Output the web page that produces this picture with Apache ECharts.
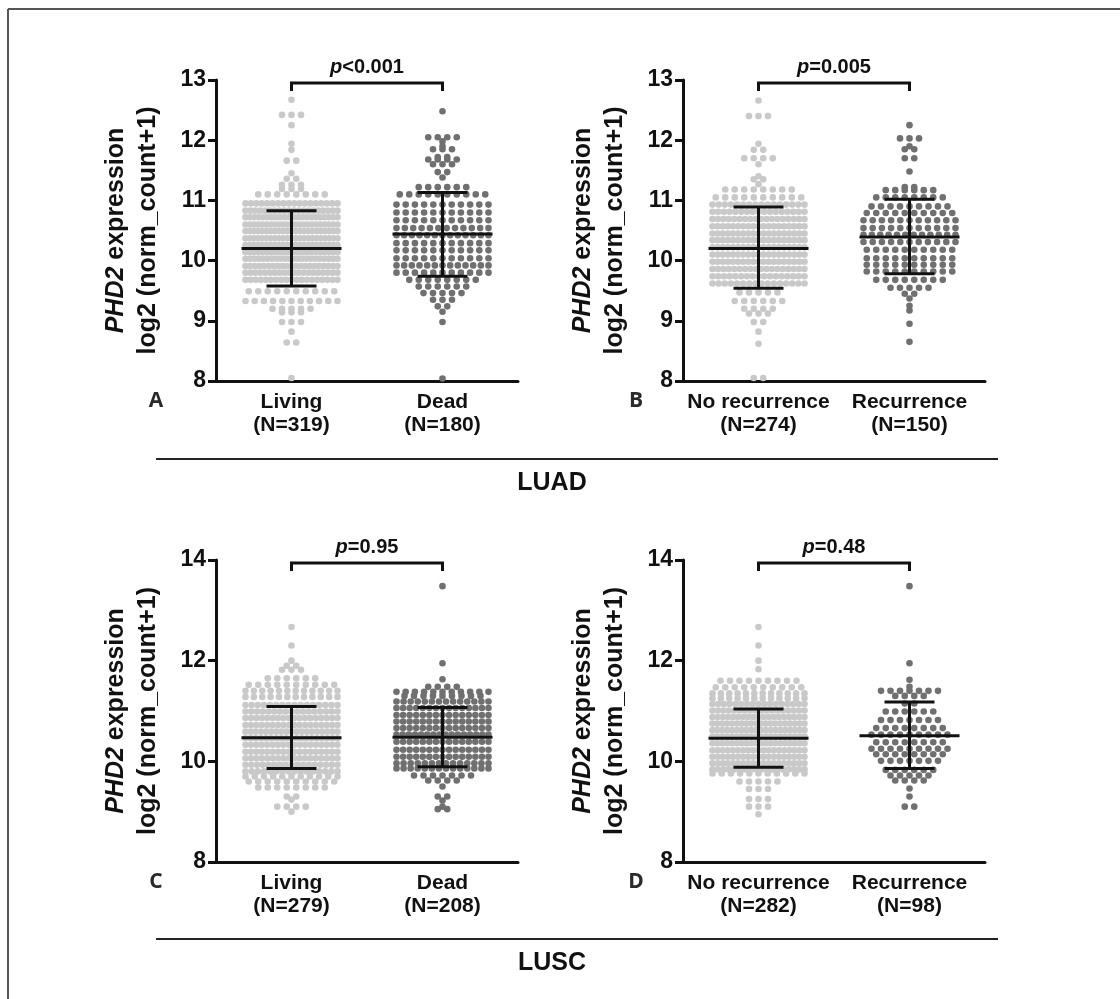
<!DOCTYPE html>
<html>
<head>
<meta charset="utf-8">
<title>PHD2 expression LUAD / LUSC</title>
<script src="https://cdn.jsdelivr.net/npm/echarts@6/dist/echarts.min.js"></script>
<style>
	html, body { margin: 0; padding: 0; background: #fff; }
	#chart { width: 1120px; height: 999px; }
</style>
</head>
<body>
<div id="chart"></div>
<script>
// Data: each row of dots as [value, number of dots]
// LUAD - vital status
var luadLiving = [[12.67,1],[12.42,3],[12.25,1],[11.94,1],[11.84,1],[11.66,2],[11.45,1],[11.36,2],[11.26,3],[11.19,3],[11.1,8],
	[10.95,18],[10.83,20],[10.72,22],[10.6,23],[10.49,23],[10.37,23],[10.26,23],[10.14,23],[10.03,22],[9.91,21],[9.8,20],[9.68,19],
	[9.49,10],[9.33,11],[9.2,5],[9.14,3],[8.98,3],[8.82,1],[8.64,2],[8.05,1]];
var luadDead = [[12.48,1],[12.05,4],[11.98,1],[11.9,1],[11.85,3],[11.72,2],[11.68,4],[11.6,3],[11.47,2],[11.38,1],[11.22,6],
	[11.1,10],[10.93,11],[10.8,11],[10.67,11],[10.54,12],[10.42,13],[10.29,11],[10.17,11],[10.04,11],[9.92,13],[9.8,11],
	[9.68,8],[9.57,6],[9.46,5],[9.35,3],[9.24,2],[9.15,1],[8.98,1],[8.04,1]];
// LUAD - recurrence
var luadNoRec = [[12.66,1],[12.4,3],[11.94,1],[11.84,2],[11.7,4],[11.6,1],[11.4,1],[11.35,2],[11.27,1],[11.18,8],[11.05,10],
	[10.93,16],[10.81,17],[10.69,18],[10.57,19],[10.45,19],[10.34,19],[10.22,19],[10.1,19],[9.98,19],[9.86,18],[9.74,17],[9.62,16],
	[9.47,5],[9.33,6],[9.2,4],[9.12,3],[8.98,2],[8.82,1],[8.62,1],[8.05,2]];
var luadRec = [[12.25,1],[12.03,3],[11.9,1],[11.85,2],[11.7,2],[11.48,1],[11.22,2],[11.17,6],[11.05,8],
	[10.9,9],[10.79,10],[10.67,11],[10.54,11],[10.43,12],[10.31,11],[10.18,10],[10.04,10],[9.93,10],[9.82,10],[9.68,8],
	[9.55,5],[9.45,2],[9.37,1],[9.25,1],[9.17,1],[8.95,1],[8.65,1]];
// LUSC - vital status
var luscLiving = [[12.67,1],[12.3,1],[12.0,1],[11.9,2],[11.82,3],[11.65,6],[11.52,10],[11.4,12],[11.28,12],
	[11.12,16],[10.99,17],[10.86,18],[10.72,18],[10.59,19],[10.46,19],[10.33,18],[10.19,18],[10.06,18],[9.93,17],[9.8,16],
	[9.7,11],[9.6,10],[9.48,8],[9.3,2],[9.24,1],[9.1,4],[9.0,1]];
var luscDead = [[13.48,1],[11.95,1],[11.63,1],[11.48,4],[11.38,11],[11.3,9],
	[11.19,14],[11.06,15],[10.92,15],[10.79,15],[10.66,15],[10.53,16],[10.39,15],[10.23,15],[10.09,15],[9.96,14],[9.86,14],
	[9.72,7],[9.62,4],[9.5,1],[9.3,2],[9.22,1],[9.1,1],[9.05,2]];
// LUSC - recurrence
var luscNoRec = [[12.67,1],[12.3,1],[12.0,1],[11.83,1],[11.6,9],[11.47,10],[11.35,12],[11.25,12],
	[11.14,17],[11.01,18],[10.88,19],[10.75,20],[10.62,20],[10.49,20],[10.36,20],[10.22,19],[10.09,19],[9.96,19],[9.84,18],
	[9.76,11],[9.6,5],[9.45,3],[9.25,3],[9.1,3],[8.95,1]];
var luscRec = [[13.48,1],[11.95,1],[11.62,1],[11.48,1],[11.4,7],[11.3,4],[11.15,2],
	[10.99,6],[10.82,7],[10.66,8],[10.53,9],[10.38,8],[10.25,9],[10.14,8],[10.01,7],[9.83,6],[9.72,5],[9.62,4],
	[9.46,1],[9.3,1],[9.1,2]];

// mean, mean-SD, mean+SD per group
var statsA = [[10.20, 9.58, 10.83], [10.44, 9.74, 11.13]];
var statsB = [[10.20, 9.54, 10.89], [10.39, 9.78, 11.02]];
var statsC = [[10.47, 9.86, 11.09], [10.48, 9.89, 11.07]];
var statsD = [[10.46, 9.88, 11.04], [10.51, 9.86, 11.18]];

var catsA = ['Living\n(N=319)', 'Dead\n(N=180)'];
var catsB = ['No recurrence\n(N=274)', 'Recurrence\n(N=150)'];
var catsC = ['Living\n(N=279)', 'Dead\n(N=208)'];
var catsD = ['No recurrence\n(N=282)', 'Recurrence\n(N=98)'];

var pValues = ['<0.001', '=0.005', '=0.95', '=0.48'];
var panelLetters = ['A', 'B', 'C', 'D'];
var yMax = [13, 13, 14, 14];
var yStep = [1, 1, 2, 2];
var cohortNames = ['LUAD', 'LUSC'];

// Layout / style
var FONT = 'Liberation Sans, Arial, Helvetica, sans-serif';
var INK = '#111';
var dotColors = ['#c9c9c9', '#707070'];
var gridLeft = [216, 683, 216, 683];
var gridTop = [80, 80, 560, 560];
var gridW = 302;
var gridH = [301, 301, 302, 302];

var panels = [
	{ cats: catsA, rows: [luadLiving, luadDead], stats: statsA },
	{ cats: catsB, rows: [luadNoRec, luadRec], stats: statsB },
	{ cats: catsC, rows: [luscLiving, luscDead], stats: statsC },
	{ cats: catsD, rows: [luscNoRec, luscRec], stats: statsD }
];

function Swarm(rows, center) {	// spreads each row of dots sideways around the category center
	let pxPerUnit = gridW / 2;
	let maxW = 92, maxStep = 9.5;
	let pts = [];
	for (let i = 0; i < rows.length; i++) {
		let v = rows[i][0], n = rows[i][1];
		let step = n > 1 ? Math.min(maxStep, maxW / (n - 1)) : 0;
		for (let j = 0; j < n; j++) {
			let off = (j - (n - 1) / 2) * step;
			pts.push([center + off / pxPerUnit, v]);
		}
	}
	return pts;
}

function RenderErrorBar(params, api) {	// mean line + SD whiskers
	let x = api.value(0);
	let m = api.coord([x, api.value(1)]);
	let lo = api.coord([x, api.value(2)]);
	let hi = api.coord([x, api.value(3)]);
	let st = { stroke: INK, lineWidth: 3 };
	return {
		type: 'group',
		children: [
			{ type: 'line', shape: { x1: m[0] - 50, y1: m[1], x2: m[0] + 50, y2: m[1] }, style: st },
			{ type: 'line', shape: { x1: m[0], y1: lo[1], x2: m[0], y2: hi[1] }, style: st },
			{ type: 'line', shape: { x1: m[0] - 25, y1: lo[1], x2: m[0] + 25, y2: lo[1] }, style: st },
			{ type: 'line', shape: { x1: m[0] - 25, y1: hi[1], x2: m[0] + 25, y2: hi[1] }, style: st }
		]
	};
}

function MakeBracket(idx) {	// significance bracket with p value
	return function(params, api) {
		let a = api.coord([api.value(0), api.value(2)]);
		let b = api.coord([api.value(1), api.value(2)]);
		let y0 = a[1] + 3;
		return {
			type: 'group',
			children: [
				{ type: 'polyline', shape: { points: [[a[0], y0 + 8], [a[0], y0], [b[0], y0], [b[0], y0 + 8]] },
					style: { stroke: INK, lineWidth: 3, fill: null } },
				{ type: 'text', style: {
					text: '{i|p}{b|' + pValues[idx] + '}',
					x: (a[0] + b[0]) / 2, y: y0 - 16, align: 'center', verticalAlign: 'middle',
					rich: {
						i: { fontFamily: FONT, fontSize: 20, fontWeight: 'bold', fontStyle: 'italic', fill: INK },
						b: { fontFamily: FONT, fontSize: 20, fontWeight: 'bold', fill: INK }
					}
				} }
			]
		};
	};
}

var grids = [], xAxes = [], yAxes = [], series = [];
for (let i = 0; i < panels.length; i++) {
	let p = panels[i];
	grids.push({ left: gridLeft[i], top: gridTop[i], width: gridW, height: gridH[i] });
	xAxes.push({	// visible category axis
		type: 'category', gridIndex: i, data: p.cats,
		axisLine: { lineStyle: { color: INK, width: 3 } },
		axisTick: { alignWithLabel: true, length: 8, lineStyle: { color: INK, width: 3 } },
		axisLabel: { interval: 0, margin: 10, color: INK, fontFamily: FONT, fontSize: 21, fontWeight: 'bold', lineHeight: 23 },
		splitLine: { show: false }
	});
	xAxes.push({ type: 'value', gridIndex: i, min: 0, max: 2, show: false });	// hidden axis for the dot offsets
	yAxes.push({
		type: 'value', gridIndex: i, min: 8, max: yMax[i], interval: yStep[i],
		name: '{i|PHD2} expression\nlog2 (norm_count+1)',
		nameLocation: 'middle', nameGap: 52,
		nameTextStyle: {
			fontFamily: FONT, fontSize: 25, fontWeight: 'bold', color: INK, lineHeight: 32,
			rich: { i: { fontFamily: FONT, fontSize: 25, fontWeight: 'bold', fontStyle: 'italic', color: INK, lineHeight: 32 } }
		},
		axisLine: { show: true, lineStyle: { color: INK, width: 3 } },
		axisTick: { show: true, length: 8, lineStyle: { color: INK, width: 3 } },
		axisLabel: { margin: 10, color: INK, fontFamily: FONT, fontSize: 23, fontWeight: 'bold' },
		splitLine: { show: false }
	});
	for (let g = 0; g < 2; g++) {
		series.push({
			type: 'scatter', xAxisIndex: 2 * i + 1, yAxisIndex: i,
			data: Swarm(p.rows[g], 0.5 + g),
			symbolSize: 6.6,
			itemStyle: { color: dotColors[g], opacity: 1 },
			silent: true, z: 2
		});
	}
	series.push({
		type: 'custom', xAxisIndex: 2 * i + 1, yAxisIndex: i, z: 5, silent: true,
		renderItem: RenderErrorBar,
		data: p.stats.map(function(s, g) { return [0.5 + g, s[0], s[1], s[2]]; })
	});
	series.push({
		type: 'custom', xAxisIndex: 2 * i + 1, yAxisIndex: i, z: 5, silent: true, clip: false,
		renderItem: MakeBracket(i),
		data: [[0.5, 1.5, yMax[i]]]
	});
}

// Frame, separators, cohort names, panel letters
var graphics = [
	{ type: 'line', shape: { x1: 8, y1: 9, x2: 1120, y2: 9 }, style: { stroke: '#555', lineWidth: 2 } },
	{ type: 'line', shape: { x1: 8, y1: 9, x2: 8, y2: 999 }, style: { stroke: '#555', lineWidth: 2 } }
];
var sepY = [459, 939];
for (let k = 0; k < 2; k++) {
	graphics.push({ type: 'line', shape: { x1: 156, y1: sepY[k], x2: 998, y2: sepY[k] }, style: { stroke: '#222', lineWidth: 2 } });
	graphics.push({ type: 'text', x: 552, y: sepY[k] + 24,
		style: { text: cohortNames[k], fontFamily: FONT, fontSize: 25, fontWeight: 'bold', fill: INK, align: 'center', verticalAlign: 'middle' } });
}
var letterX = [156, 636, 156, 636];
var letterY = [401, 401, 882, 882];
for (let i = 0; i < 4; i++) {
	graphics.push({ type: 'text', x: letterX[i], y: letterY[i],
		style: { text: panelLetters[i], fontFamily: 'Open Sans, Lato, sans-serif', fontSize: 21, fontWeight: 'bold', fill: '#2a2a2a', align: 'center', verticalAlign: 'middle' } });
}

var chart = echarts.init(document.getElementById('chart'), null, { renderer: 'canvas' });
chart.setOption({
	animation: false,
	backgroundColor: '#fff',
	grid: grids,
	xAxis: xAxes,
	yAxis: yAxes,
	series: series,
	graphic: graphics
});
</script>
</body>
</html>
